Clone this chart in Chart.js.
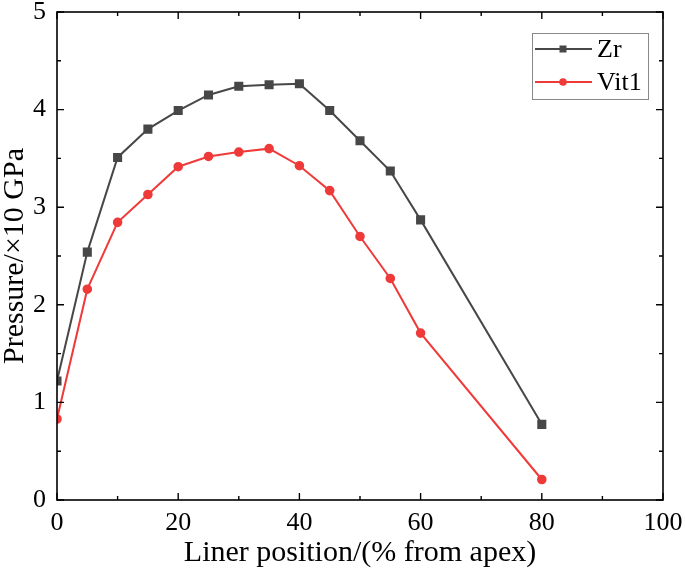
<!DOCTYPE html>
<html>
<head>
<meta charset="utf-8">
<script src="https://cdn.jsdelivr.net/npm/chart.js@4/dist/chart.umd.min.js"></script>
<style>
html,body{margin:0;padding:0;background:#fff;}
#wrap{width:685px;height:575px;position:relative;}
</style>
</head>
<body>
<div id="wrap"><canvas id="c" width="685" height="575"></canvas></div>
<script>
const positions = [0, 5, 10, 15, 20, 25, 30, 35, 40, 45, 50, 55, 60, 80];
const zrValues = [1.22, 2.54, 3.51, 3.80, 3.99, 4.15, 4.24, 4.255, 4.265, 3.99, 3.68, 3.37, 2.87, 0.775];
const vit1Values = [0.83, 2.16, 2.845, 3.13, 3.415, 3.52, 3.565, 3.60, 3.425, 3.17, 2.70, 2.27, 1.71, 0.21];
const seriesNames = ['Zr', 'Vit1'];
const xTicks = [0, 20, 40, 60, 80, 100];
const yTicks = [0, 1, 2, 3, 4, 5];
const xTitle = 'Liner position/(% from apex)';
const yTitle = 'Pressure/\u00d710 GPa';

const FONT = '"Liberation Serif", "Times New Roman", serif';
const zrColor = '#474747';
const vitColor = '#ef3a3a';

const framePlugin = {
  id: 'frame',
  afterDraw(chart) {
    const ctx = chart.ctx;
    const a = chart.chartArea;
    const xs = chart.scales.x, ys = chart.scales.y;
    ctx.save();
    ctx.strokeStyle = '#000';
    ctx.lineWidth = 1.6;
    ctx.strokeRect(a.left, a.top, a.right - a.left, a.bottom - a.top);
    ctx.lineWidth = 1.4;
    const major = 7, minor = 4;
    ctx.beginPath();
    for (let i = 0; i < xTicks.length; i++) {
      const px = xs.getPixelForValue(xTicks[i]);
      ctx.moveTo(px, a.bottom); ctx.lineTo(px, a.bottom - major);
      ctx.moveTo(px, a.top); ctx.lineTo(px, a.top + major);
      if (i < xTicks.length - 1) {
        const mx = xs.getPixelForValue((xTicks[i] + xTicks[i + 1]) / 2);
        ctx.moveTo(mx, a.bottom); ctx.lineTo(mx, a.bottom - minor);
        ctx.moveTo(mx, a.top); ctx.lineTo(mx, a.top + minor);
      }
    }
    for (let i = 0; i < yTicks.length; i++) {
      const py = ys.getPixelForValue(yTicks[i]);
      ctx.moveTo(a.left, py); ctx.lineTo(a.left + major, py);
      ctx.moveTo(a.right, py); ctx.lineTo(a.right - major, py);
      if (i < yTicks.length - 1) {
        const my = ys.getPixelForValue((yTicks[i] + yTicks[i + 1]) / 2);
        ctx.moveTo(a.left, my); ctx.lineTo(a.left + minor, my);
        ctx.moveTo(a.right, my); ctx.lineTo(a.right - minor, my);
      }
    }
    ctx.stroke();

    // legend
    const bx = 532, by = 33, bw = 116, bh = 66;
    ctx.fillStyle = '#fff';
    ctx.fillRect(bx, by, bw, bh);
    ctx.strokeStyle = '#888';
    ctx.lineWidth = 1;
    ctx.strokeRect(bx + 0.5, by + 0.5, bw, bh);
    const rows = [49, 82];
    chart.data.datasets.forEach((ds, i) => {
      const y = rows[i];
      ctx.strokeStyle = ds.borderColor;
      ctx.lineWidth = 2;
      ctx.beginPath(); ctx.moveTo(535, y); ctx.lineTo(592, y); ctx.stroke();
      ctx.fillStyle = ds.borderColor;
      if (ds.pointStyle === 'rect') {
        ctx.fillRect(563 - 3.5, y - 3.5, 7, 7);
      } else {
        ctx.beginPath(); ctx.arc(563, y, 3.8, 0, Math.PI * 2); ctx.fill();
      }
      ctx.fillStyle = '#000';
      ctx.font = '26px ' + FONT;
      ctx.textBaseline = 'middle';
      ctx.textAlign = 'left';
      ctx.fillText(ds.label, 597, y + 1);
    });
    ctx.restore();
  }
};

const toPts = (vals) => positions.map((x, i) => ({x: x, y: vals[i]}));

new Chart(document.getElementById('c'), {
  type: 'line',
  data: {
    datasets: [
      {
        label: seriesNames[0], data: toPts(zrValues),
        borderColor: zrColor, backgroundColor: zrColor, borderWidth: 2,
        pointStyle: 'rect', pointRadius: 5, pointHoverRadius: 5, tension: 0
      },
      {
        label: seriesNames[1], data: toPts(vit1Values),
        borderColor: vitColor, backgroundColor: vitColor, borderWidth: 2,
        pointStyle: 'circle', pointRadius: 3.8, pointHoverRadius: 3.8, tension: 0
      }
    ]
  },
  options: {
    responsive: false,
    animation: false,
    devicePixelRatio: 1,
    layout: {padding: {top: 12, right: 22, left: 0, bottom: 0}},
    plugins: {legend: {display: false}, tooltip: {enabled: false}},
    scales: {
      x: {
        type: 'linear', min: 0, max: 100,
        afterBuildTicks: (s) => { s.ticks = xTicks.map(v => ({value: v})); },
        afterFit: (s) => { s.height = 75; s.paddingLeft = 0; s.paddingRight = 0; },
        grid: {display: false, drawTicks: false},
        border: {display: false},
        ticks: {color: '#000', font: {family: FONT, size: 26}, padding: 8, maxRotation: 0},
        title: {display: true, text: xTitle, color: '#000', font: {family: FONT, size: 30, lineHeight: 1}, padding: {top: 0, bottom: 7}}
      },
      y: {
        type: 'linear', min: 0, max: 5,
        afterBuildTicks: (s) => { s.ticks = yTicks.map(v => ({value: v})); },
        afterFit: (s) => { s.width = 57; s.paddingTop = 0; s.paddingBottom = 0; },
        grid: {display: false, drawTicks: false},
        border: {display: false},
        ticks: {color: '#000', font: {family: FONT, size: 26}, padding: 11},
        title: {display: true, text: yTitle, color: '#000', font: {family: FONT, size: 30, lineHeight: 1}, padding: {top: 0, bottom: 0}}
      }
    }
  },
  plugins: [framePlugin]
});
</script>
</body>
</html>
